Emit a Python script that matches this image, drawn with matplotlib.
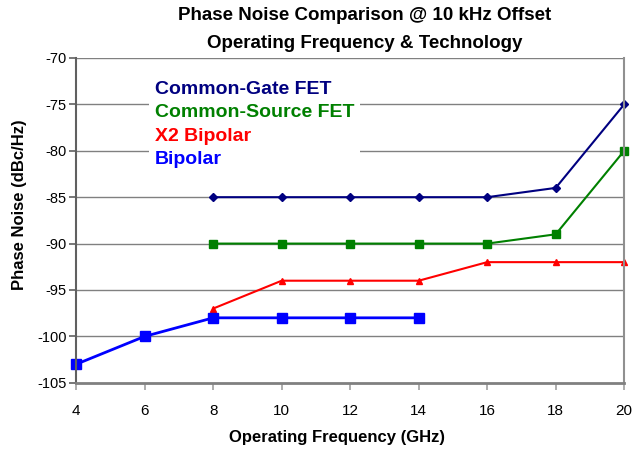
import matplotlib
matplotlib.use("Agg")
import matplotlib.pyplot as plt

plt.rcParams['font.family'] = ['Liberation Sans', 'DejaVu Sans']
plt.rcParams['axes.unicode_minus'] = False

# data
freq_fet = [8, 10, 12, 14, 16, 18, 20]
common_gate = [-85, -85, -85, -85, -85, -84, -75]
common_source = [-90, -90, -90, -90, -90, -89, -80]
x2_bipolar = [-97, -94, -94, -94, -92, -92, -92]
freq_bip = [4, 6, 8, 10, 12, 14]
bipolar = [-103, -100, -98, -98, -98, -98]

fig = plt.figure(figsize=(6.35, 4.53), dpi=100)
ax = fig.add_axes([0.12, 0.155, 0.863, 0.717])

# horizontal grid
for y in range(-100, -69, 5):
    ax.axhline(y, color='#808080', lw=1.0, zorder=0)

ax.plot(freq_fet, common_gate, color='#000080', marker='D', ms=4, lw=1.5, label='Common-Gate FET', clip_on=False)
ax.plot(freq_fet, common_source, color='#008000', marker='s', ms=6, lw=1.5, label='Common-Source FET', clip_on=False)
ax.plot(freq_fet, x2_bipolar, color='#FF0000', marker='^', ms=5, lw=1.5, label='X2 Bipolar', clip_on=False)
ax.plot(freq_bip, bipolar, color='#0000FF', marker='s', ms=7, lw=2, label='Bipolar', clip_on=False)

ax.set_xlim(4, 20)
ax.set_ylim(-105, -70)
ax.set_xticks(range(4, 21, 2))
ax.set_yticks(range(-105, -69, 5))

ax.spines['top'].set_visible(False)
ax.spines['right'].set_color('#909090')
ax.spines['right'].set_linewidth(1.5)
ax.spines['left'].set_color('#606060')
ax.spines['left'].set_linewidth(1.5)
ax.spines['bottom'].set_color('#808080')
ax.spines['bottom'].set_linewidth(2)
ax.tick_params(axis='y', length=5, width=1.2, color='#606060', labelsize=10.5, pad=2)
ax.tick_params(axis='x', length=5, width=1.2, color='#a0a0a0', labelsize=11, pad=10)

ax.set_xlabel('Operating Frequency (GHz)', fontsize=12, fontweight='bold')
ax.set_ylabel('Phase Noise (dBc/Hz)', fontsize=12, fontweight='bold')
ax.xaxis.set_label_coords(0.476, -0.145)
ax.yaxis.set_label_coords(-0.09, 0.548)

fig.text(0.575, 0.984, 'Phase Noise Comparison @ 10 kHz Offset\nOperating Frequency & Technology',
         ha='center', va='top', fontsize=13.5, fontweight='bold', linespacing=1.85)

leg = ax.legend(loc='upper left', bbox_to_anchor=(0.219, 0.857), bbox_transform=fig.transFigure,
                handlelength=0, handletextpad=0, frameon=True, framealpha=1,
                edgecolor='none', labelspacing=0.3, borderpad=0.3,
                prop={'weight': 'bold', 'size': 14})
for h in leg.legend_handles:
    h.set_visible(False)
for t, c in zip(leg.get_texts(), ['#000080', '#008000', '#FF0000', '#0000FF']):
    t.set_color(c)

fig.savefig('out.png', dpi=100)
